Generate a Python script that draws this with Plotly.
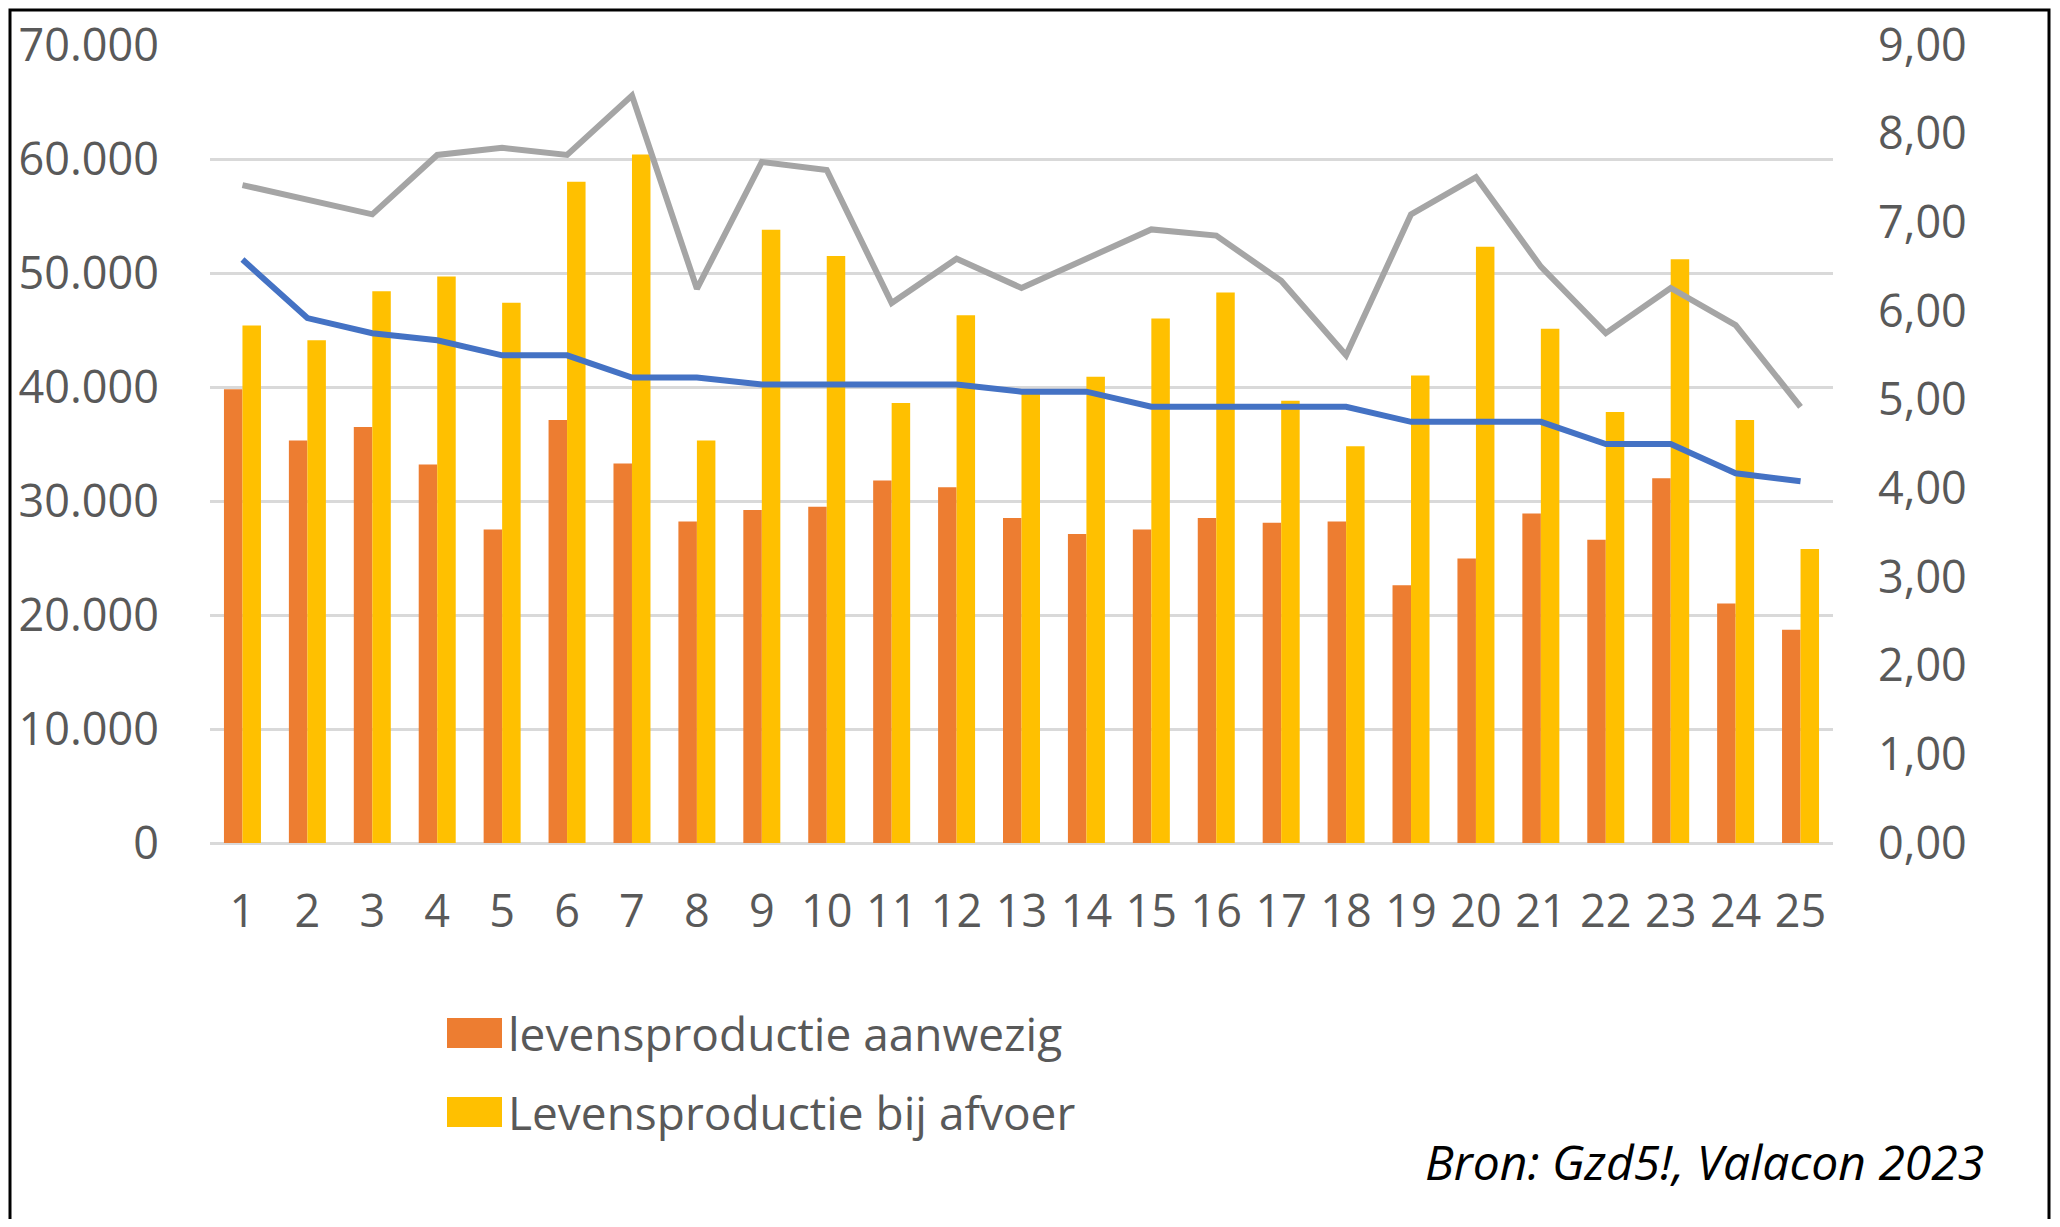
import plotly.graph_objects as go

categories = [str(i) for i in range(1, 26)]
aanwezig = [39800, 35300, 36500, 33200, 27500, 37100, 33300, 28200, 29200, 29500,
            31800, 31200, 28500, 27100, 27500, 28500, 28100, 28200, 22600, 24950,
            28900, 26600, 32000, 21000, 18700]
afvoer = [45400, 44100, 48400, 49700, 47400, 58000, 60400, 35300, 53800, 51500,
          38600, 46300, 39700, 40900, 46000, 48300, 38800, 34800, 41000, 52300,
          45100, 37800, 51200, 37100, 25800]
grijs = [7.42, 7.25, 7.09, 7.76, 7.84, 7.76, 8.43, 6.25, 7.68, 7.59,
         6.09, 6.59, 6.26, 6.59, 6.92, 6.85, 6.34, 5.50, 7.09, 7.51,
         6.50, 5.75, 6.26, 5.84, 4.92]
blauw = [6.58, 5.92, 5.75, 5.67, 5.50, 5.50, 5.25, 5.25, 5.17, 5.17,
         5.17, 5.17, 5.09, 5.09, 4.92, 4.92, 4.92, 4.92, 4.75, 4.75,
         4.75, 4.50, 4.50, 4.17, 4.08]
legend_labels = ["levensproductie aanwezig", "Levensproductie bij afvoer"]
source_text = "Bron: Gzd5!, Valacon 2023"

OFF = 8  # default page margin around the figure
W, H = 2060 - 2 * OFF, 1227 - 2 * OFF
# plot area in page pixels
PL, PR, PT, PB = 210, 1833, 45, 843
L, R, T, B = PL - OFF, PR - OFF, PT - OFF, PB - OFF


def px(x):
    return (x - OFF - L) / (R - L)


def py(y):
    return (B - (y - OFF)) / (B - T)


FONT = "Open Sans, Noto Sans, sans-serif"
GREY_TXT = "#595959"
ORANGE = "#ED7D31"
YELLOW = "#FFC000"

fig = go.Figure()
fig.add_trace(go.Bar(x=categories, y=aanwezig, name=legend_labels[0],
                     marker=dict(color=ORANGE, line=dict(width=0)), showlegend=False))
fig.add_trace(go.Bar(x=categories, y=afvoer, name=legend_labels[1],
                     marker=dict(color=YELLOW, line=dict(width=0)), showlegend=False))
fig.add_trace(go.Scatter(x=categories, y=grijs, yaxis="y2", mode="lines",
                         line=dict(color="#A5A5A5", width=6), showlegend=False))
fig.add_trace(go.Scatter(x=categories, y=blauw, yaxis="y2", mode="lines",
                         line=dict(color="#4472C4", width=6), showlegend=False))

shapes = [
    # outer frame
    dict(type="rect", xref="paper", yref="paper", x0=px(10), x1=px(2049), y0=py(10), y1=py(1260),
         line=dict(color="black", width=3), fillcolor="rgba(0,0,0,0)", layer="above"),
    # legend swatches
    dict(type="rect", xref="paper", yref="paper", x0=px(447), x1=px(502), y0=py(1018), y1=py(1048),
         line=dict(width=0), fillcolor=ORANGE),
    dict(type="rect", xref="paper", yref="paper", x0=px(447), x1=px(502), y0=py(1097), y1=py(1127),
         line=dict(width=0), fillcolor=YELLOW),
]

annotations = [
    dict(text=legend_labels[0], xref="paper", yref="paper", x=px(506), y=py(1033),
         xanchor="left", yanchor="middle", showarrow=False,
         font=dict(family=FONT, size=46, color=GREY_TXT)),
    dict(text=legend_labels[1], xref="paper", yref="paper", x=px(506), y=py(1112),
         xanchor="left", yanchor="middle", showarrow=False,
         font=dict(family=FONT, size=46, color=GREY_TXT)),
    dict(text="<i>" + source_text + "</i>", xref="paper", yref="paper", x=px(1986), y=py(1161),
         xanchor="right", yanchor="middle", showarrow=False,
         font=dict(family=FONT, size=48, color="black")),
]

fig.update_layout(
    width=W, height=H,
    margin=dict(l=L, r=W - R, t=T, b=H - B, pad=0, autoexpand=False),
    paper_bgcolor="white", plot_bgcolor="white",
    separators=",.",
    barmode="group", bargap=0.43, bargroupgap=0,
    showlegend=False,
    font=dict(family=FONT, size=45, color=GREY_TXT),
    xaxis=dict(type="category", showgrid=False, zeroline=False, showline=False,
               ticks="", ticklabelstandoff=38, automargin=False,
               tickfont=dict(family=FONT, size=45, color=GREY_TXT)),
    yaxis=dict(range=[0, 70000], dtick=10000, tickformat=",d",
               showgrid=True, gridcolor="#D9D9D9", gridwidth=3,
               zeroline=True, zerolinecolor="#D9D9D9", zerolinewidth=3,
               showline=False, ticks="", ticklabelstandoff=50, automargin=False,
               tickfont=dict(family=FONT, size=45, color=GREY_TXT)),
    yaxis2=dict(range=[0, 9], dtick=1, tickformat=".2f", overlaying="y", side="right",
                showgrid=False, zeroline=False, showline=False, ticks="",
                ticklabelstandoff=44, automargin=False,
                tickfont=dict(family=FONT, size=45, color=GREY_TXT)),
    shapes=shapes,
    annotations=annotations,
)

fig.write_html("out.html")
